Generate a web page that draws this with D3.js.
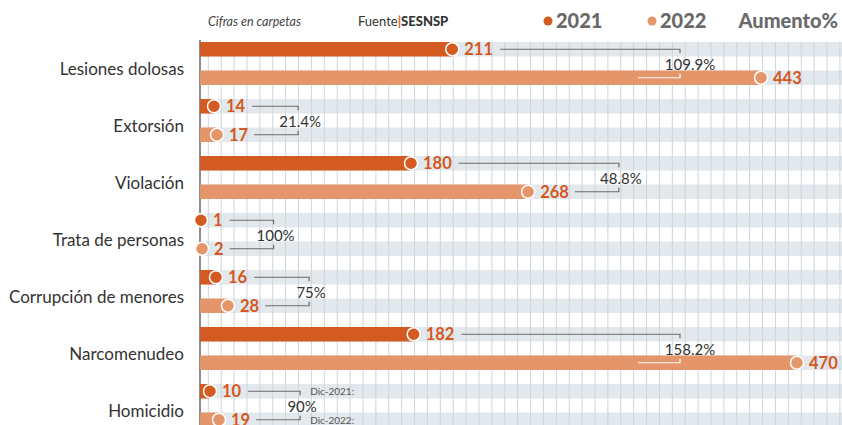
<!DOCTYPE html>
<html>
<head>
<meta charset="utf-8">
<script src="https://cdn.jsdelivr.net/npm/d3@7"></script>
<style>
  body { margin: 0; background: #fff; }
  svg { font-family: Lato, "Noto Sans", sans-serif; }
</style>
</head>
<body>
<script>
// data
var categories = ["Lesiones dolosas", "Extorsión", "Violación", "Trata de personas",
                  "Corrupción de menores", "Narcomenudeo", "Homicidio"];
var v2021 = [211, 14, 180, 1, 16, 182, 10];
var v2022 = [443, 17, 268, 2, 28, 470, 19];
var increase = ["109.9%", "21.4%", "48.8%", "100%", "75%", "158.2%", "90%"];
var years = ["2021", "2022"];
var notes = ["Dic-2021:", "Dic-2022:"];

var colors = ["#d35a20", "#e5956a"];
var W = 842, H = 425;

var svg = d3.select("body").append("svg")
    .attr("width", W)
    .attr("height", H);

// scales (the original axis is squeezed for small values)
var x = d3.scaleLinear().domain([0, 30, 180, 470]).range([200, 230, 411, 797]);
var y = d3.scaleBand().domain(categories).range([42, 42 + 57 * 7]);
var rowOff = [0, 28.5], barH = 14.5;

// grey bands behind each bar row
categories.forEach(function(c) {
  rowOff.forEach(function(o) {
    svg.append("rect")
      .attr("x", 200).attr("y", y(c) + o)
      .attr("width", W - 200).attr("height", barH)
      .attr("fill", "#e3e8ec");
  });
});

// vertical grid
svg.selectAll(".grid")
  .data(d3.range(208.3, W, 12.89))
  .enter().append("line")
  .attr("x1", function(d) { return d; }).attr("x2", function(d) { return d; })
  .attr("y1", 42).attr("y2", H)
  .attr("stroke", "#cdd5db").attr("stroke-width", 1);

// axis line
svg.append("line")
  .attr("x1", 200).attr("x2", 200).attr("y1", 40).attr("y2", H)
  .attr("stroke", "#8c8c8c").attr("stroke-width", 2);

// category labels
svg.selectAll(".cat")
  .data(categories)
  .enter().append("text")
  .attr("x", 184)
  .attr("y", function(d) { return y(d) + 32.5; })
  .attr("text-anchor", "end")
  .attr("font-size", 17)
  .attr("fill", "#333")
  .text(function(d) { return d; });

var series = [v2021, v2022];

categories.forEach(function(c, i) {
  var ends = [];
  series.forEach(function(vals, s) {
    var cy = y(c) + rowOff[s] + barH / 2;
    var v = vals[i];
    svg.append("rect")
      .attr("x", 200).attr("y", y(c) + rowOff[s])
      .attr("width", Math.max(0, x(v) - 200)).attr("height", barH)
      .attr("fill", colors[s]);
    svg.append("circle")
      .attr("cx", x(v)).attr("cy", cy).attr("r", 6.5)
      .attr("fill", colors[s])
      .attr("stroke", "#fff").attr("stroke-width", 1.5);
    var t = svg.append("text")
      .attr("x", x(v) + 12).attr("y", cy + 6)
      .attr("font-size", 16.5).attr("font-weight", 700)
      .attr("fill", "#d4581e")
      .text(v);
    ends.push(x(v) + 12 + t.node().getComputedTextLength());
  });

  // bracket with the increase
  var c1 = y(c) + barH / 2, c2 = y(c) + rowOff[1] + barH / 2;
  var bx = Math.max(ends[0], ends[1]) + 50;
  if (bx > 700) bx = 680;
  svg.append("path")
    .attr("d", "M" + (ends[0] + 7) + "," + c1 + "H" + bx + "V" + (c1 + 4))
    .attr("fill", "none").attr("stroke", "#6b6b6b").attr("stroke-width", 1.2);
  var inside = ends[1] > bx;
  var x0 = inside ? bx - 42 : ends[1] + 6;
  svg.append("path")
    .attr("d", "M" + x0 + "," + c2 + "H" + bx + "V" + (c2 - 4))
    .attr("fill", "none").attr("stroke", inside ? "#fff" : "#6b6b6b").attr("stroke-width", 1.2);
  svg.append("text")
    .attr("x", bx + (inside ? 10 : 2)).attr("y", (c1 + c2) / 2 + 6.5)
    .attr("text-anchor", "middle")
    .attr("font-size", 15).attr("fill", "#333")
    .text(increase[i]);

  if (i === categories.length - 1) {
    [c1, c2].forEach(function(cy, k) {
      svg.append("text")
        .attr("x", bx + 10).attr("y", cy + 4)
        .attr("font-size", 10).attr("fill", "#555")
        .text(notes[k]);
    });
  }
});

// header
svg.append("text")
  .attr("x", 208).attr("y", 26)
  .attr("font-size", 12.5).attr("font-style", "italic").attr("fill", "#444")
  .text("Cifras en carpetas");

var src = svg.append("text").attr("x", 358).attr("y", 26)
  .attr("font-size", 13).attr("fill", "#333");
src.append("tspan").text("Fuente");
src.append("tspan").attr("fill", "#e07030").attr("font-weight", 900).text("|");
src.append("tspan").attr("font-weight", 900).text("SESNSP");

// legend
var legX = [548, 652];
years.forEach(function(yr, k) {
  svg.append("circle")
    .attr("cx", legX[k]).attr("cy", 21).attr("r", 4.5)
    .attr("fill", colors[k]);
  svg.append("text")
    .attr("x", legX[k] + 8).attr("y", 28)
    .attr("font-size", 20).attr("font-weight", 900).attr("fill", "#6a6a6a")
    .text(yr);
});
svg.append("text")
  .attr("x", 838).attr("y", 28)
  .attr("text-anchor", "end")
  .attr("font-size", 20).attr("font-weight", 900).attr("fill", "#6a6a6a")
  .text("Aumento%");
</script>
</body>
</html>
